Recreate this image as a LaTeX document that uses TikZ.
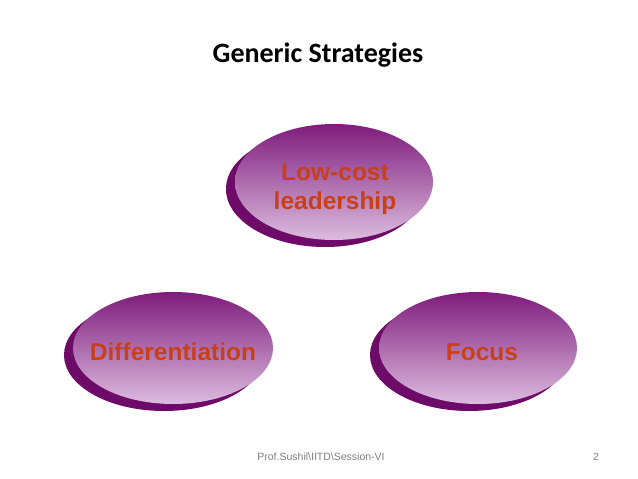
\documentclass[tikz,border=0pt]{standalone}
\usepackage{fontspec}
\setmainfont{Liberation Sans}
\newfontfamily\titlefont{Carlito}
\usetikzlibrary{shapes.geometric,shadows}
\definecolor{darkplum}{HTML}{6E0A68}
\definecolor{topplum}{HTML}{7E1C7C}
\definecolor{midplum}{HTML}{A868A8}
\definecolor{lowlilac}{HTML}{DCBCDF}
\definecolor{labelred}{HTML}{C8401A}
\definecolor{footgray}{HTML}{808080}
\tikzset{
    strategy/.style={ellipse, minimum width=198pt, minimum height=112pt,
        top color=topplum, middle color=midplum, bottom color=lowlilac,
        general shadow={shadow xshift=-9pt, shadow yshift=-7pt, fill=darkplum},
        inner sep=0pt},
    strategytext/.style={text=labelred, font=\bfseries\fontsize{24.5}{29}\selectfont,
        align=center},
    footer/.style={text=footgray, font=\fontsize{10.5}{12}\selectfont}
}
\begin{document}
\begin{tikzpicture}[x=1pt,y=-1pt]
    \useasboundingbox[fill=white] (0,0) rectangle (638,479);

    % Title
    \node[font=\titlefont\bfseries\fontsize{28}{32}\selectfont] (title) at (318,55) {Generic Strategies};

    % Strategies
    \node[strategy, minimum height=116pt] (lowcost) at (334,182) {};
    \node[strategy, minimum width=200pt] (diff) at (173,348) {};
    \node[strategy] (focus) at (478,348) {};
    \node[strategytext] (lowcosttext) at (335,189) {Low-cost\\leadership};
    \node[strategytext] (difftext) at (173,352) {Differentiation};
    \node[strategytext] (focustext) at (482,352) {Focus};

    % Footer
    \node[footer] (source) at (321,457) {Prof.Sushil\textbackslash IITD\textbackslash Session-VI};
    \node[footer] (page) at (596,457) {2};

\end{tikzpicture}
\end{document}
